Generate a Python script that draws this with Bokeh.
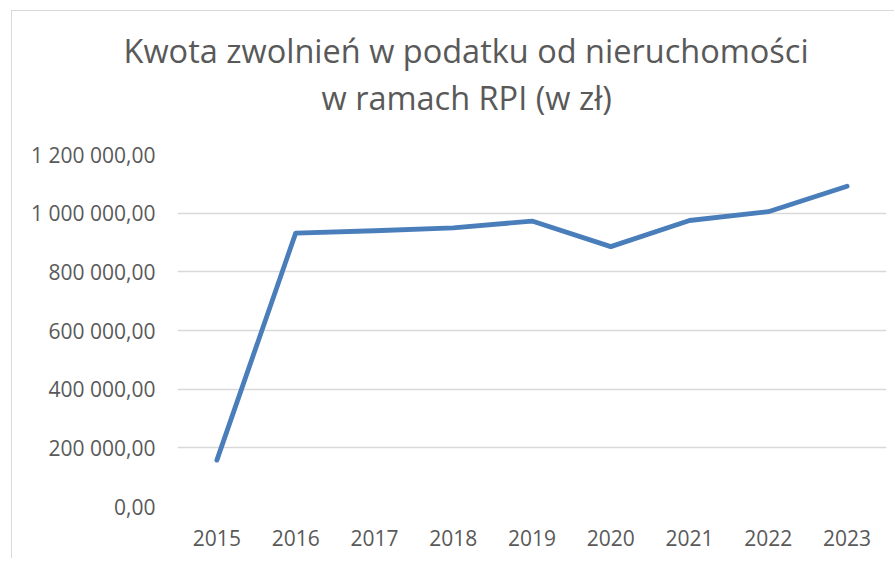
from bokeh.plotting import figure
from bokeh.models import Range1d, FactorRange, FixedTicker, Title
from bokeh.embed import file_html
from bokeh.resources import INLINE

years = ["2015", "2016", "2017", "2018", "2019", "2020", "2021", "2022", "2023"]
amounts = [158000, 932000, 940000, 950000, 973000, 886000, 975000, 1005000, 1092000]
y_ticks = [0, 200000, 400000, 600000, 800000, 1000000, 1200000]
y_tick_labels = ["0,00", "200 000,00", "400 000,00", "600 000,00", "800 000,00",
                 "1 000 000,00", "1 200 000,00"]
title_line1 = "Kwota zwolnień w podatku od nieruchomości"
title_line2 = "w ramach RPI (w zł)"

FONT = "Open Sans"
GREY = "#595959"

p = figure(width=883, height=548, output_backend="svg", toolbar_location=None,
           x_range=FactorRange(*years, range_padding=0),
           y_range=Range1d(0, 1200000),
           min_border_left=165, min_border_right=9, min_border_bottom=53,
           min_border_top=143)
p.styles = {"margin-left": "11px", "margin-top": "10px",
            "border-left": "1px solid #d9d9d9", "border-top": "1px solid #d9d9d9"}

p.title = None
spacer = Title(text=" ", align="left", text_font=FONT, text_font_size="24.5px",
               standoff=0)
t2 = Title(text=title_line2, align="left", offset=144, text_font=FONT,
           text_font_size="32.5px", text_font_style="normal", text_color=GREY,
           standoff=0)
t1 = Title(text=title_line1, align="left", offset=-54, text_font=FONT,
           text_font_size="32.5px", text_font_style="normal", text_color=GREY,
           standoff=0)
p.add_layout(spacer, "above")
p.add_layout(t2, "above")
p.add_layout(t1, "above")

p.line(x=years, y=amounts, line_color="#4a7ebb", line_width=4.8,
       line_cap="round", line_join="round")

p.outline_line_color = None
p.background_fill_color = "white"
p.border_fill_color = "white"

p.xgrid.grid_line_color = None
p.ygrid.grid_line_color = "#d9d9d9"
p.ygrid.grid_line_width = 1.3
p.yaxis.ticker = FixedTicker(ticks=y_ticks)
p.yaxis.major_label_overrides = {t: l for t, l in zip(y_ticks, y_tick_labels)}

for ax in (p.xaxis, p.yaxis):
    ax.axis_line_color = None
    ax.major_tick_line_color = None
    ax.minor_tick_line_color = None
    ax.major_tick_out = 0
    ax.major_tick_in = 0
    ax.major_label_text_font = FONT
    ax.major_label_text_font_size = "21px"
    ax.major_label_text_color = GREY
p.yaxis.major_label_standoff = 22
p.xaxis.major_label_standoff = 23

open("out.html", "w").write(file_html(p, INLINE))
